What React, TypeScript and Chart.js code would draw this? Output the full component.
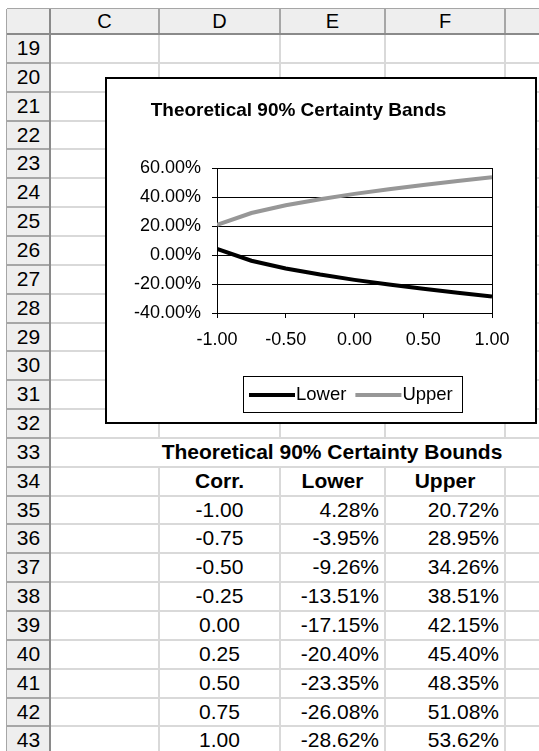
import React, { useEffect, useRef } from "react";
import { Chart, registerables } from "chart.js";

Chart.register(...registerables);

// ---------- data ----------
const corr = [-1, -0.75, -0.5, -0.25, 0, 0.25, 0.5, 0.75, 1];
const lowerBound = [4.28, -3.95, -9.26, -13.51, -17.15, -20.4, -23.35, -26.08, -28.62];
const upperBound = [20.72, 28.95, 34.26, 38.51, 42.15, 45.4, 48.35, 51.08, 53.62];
const seriesNames = ["Lower", "Upper"];
const xTickValues = [-1, -0.5, 0, 0.5, 1];
const yTickValues = [-40, -20, 0, 20, 40, 60];
const chartTitle = "Theoretical 90% Certainty Bands";
const tableTitle = "Theoretical 90% Certainty Bounds";
const tableHeaders = ["Corr.", "Lower", "Upper"];
const columnLetters = ["C", "D", "E", "F", ""];
const firstRow = 19;
const lastRow = 43;
const titleRow = 33;
const headerRow = 34;
const firstDataRow = 35;

// ---------- layout ----------
const FONT = '"Liberation Sans", Arial, Helvetica, sans-serif';
const LEFT = 7;
const HDR_TOP = 9;
const HDR_BOTTOM = 34;
const ROW_H = 28.85;
const ROWHDR_RIGHT = 50;
const COL_EDGES = [50, 159, 280, 385, 505, 600];
const PAGE_W = 539;
const PAGE_H = 751;
const HDR_BG = "#eeeeee";
const HDR_LINE = "#a6a6a6";
const GRID = "#d9d9d9";

const CHART_BOX = { left: 105, top: 77, width: 432, height: 347 };

const rowTop = (r: number) => HDR_BOTTOM + (r - firstRow) * ROW_H;

function ChartBox() {
  const ref = useRef<HTMLCanvasElement | null>(null);
  useEffect(() => {
    const canvas = ref.current;
    if (!canvas) return;
    const framePlugin = {
      id: "frameAndLegend",
      beforeDraw(chart: any) {
        const ctx = chart.ctx;
        ctx.save();
        ctx.fillStyle = "#ffffff";
        ctx.fillRect(0, 0, chart.width, chart.height);
        ctx.restore();
      },
      afterDraw(chart: any) {
        const ctx = chart.ctx;
        ctx.save();
        // outer frame
        ctx.strokeStyle = "#000";
        ctx.lineWidth = 2;
        ctx.strokeRect(1, 1, chart.width - 2, chart.height - 2);
        // legend
        const boxL = 138, boxT = 299, boxR = 357, boxB = 335;
        ctx.lineWidth = 1;
        ctx.strokeRect(boxL + 0.5, boxT + 0.5, boxR - boxL, boxB - boxT);
        const cy = (boxT + boxB) / 2 + 1;
        ctx.font = `18.5px ${FONT}`;
        ctx.textBaseline = "middle";
        ctx.textAlign = "left";
        let x = boxL + 6;
        chart.data.datasets.forEach((ds: any) => {
          ctx.strokeStyle = ds.borderColor;
          ctx.lineWidth = 4;
          ctx.beginPath();
          ctx.moveTo(x, cy);
          ctx.lineTo(x + 46, cy);
          ctx.stroke();
          x += 47;
          ctx.fillStyle = "#000";
          ctx.fillText(ds.label, x, cy);
          x += ctx.measureText(ds.label).width + 9;
        });
        ctx.restore();
      },
    };
    const chart = new Chart(canvas, {
      type: "line",
      data: {
        datasets: [
          {
            label: seriesNames[0],
            data: corr.map((c, i) => ({ x: c, y: lowerBound[i] })),
            borderColor: "#000000",
            borderWidth: 4,
            pointRadius: 0,
            tension: 0,
            fill: false,
          },
          {
            label: seriesNames[1],
            data: corr.map((c, i) => ({ x: c, y: upperBound[i] })),
            borderColor: "#979797",
            borderWidth: 4,
            pointRadius: 0,
            tension: 0,
            fill: false,
          },
        ],
      },
      options: {
        animation: false,
        responsive: false,
        maintainAspectRatio: false,
        devicePixelRatio: 1,
        layout: { padding: { top: 0, left: 0, right: 45, bottom: 0 } },
        plugins: {
          legend: { display: false },
          tooltip: { enabled: false },
          title: {
            display: true,
            text: chartTitle,
            color: "#000",
            font: { family: FONT, size: 19, weight: "bold", lineHeight: 1.2 },
            padding: { top: 22, bottom: 46.2 },
          },
        },
        scales: {
          x: {
            type: "linear",
            min: -1,
            max: 1,
            afterBuildTicks: (s: any) => {
              s.ticks = xTickValues.map((v) => ({ value: v }));
            },
            afterFit: (s: any) => {
              s.height = 111;
            },
            ticks: {
              callback: (v: any) => Number(v).toFixed(2),
              color: "#000",
              font: { family: FONT, size: 18 },
              padding: 11,
              maxRotation: 0,
              autoSkip: false,
            },
            grid: {
              color: (c: any) =>
                c.tick && (c.tick.value === -1 || c.tick.value === 1) ? "#000" : "rgba(0,0,0,0)",
              tickColor: "#000",
              tickLength: 5,
              lineWidth: 1,
            },
            border: { display: true, color: "#000", width: 1 },
          },
          y: {
            type: "linear",
            min: -40,
            max: 60,
            afterBuildTicks: (s: any) => {
              s.ticks = yTickValues.map((v) => ({ value: v }));
            },
            afterFit: (s: any) => {
              s.width = 112;
            },
            ticks: {
              callback: (v: any) => Number(v).toFixed(2) + "%",
              color: "#000",
              font: { family: FONT, size: 18 },
              padding: 11,
              autoSkip: false,
            },
            grid: { color: "#000", tickColor: "#000", tickLength: 5, lineWidth: 1 },
            border: { display: true, color: "#000", width: 1 },
          },
        },
      },
      plugins: [framePlugin],
    } as any);
    return () => chart.destroy();
  }, []);
  return (
    <canvas
      ref={ref}
      width={CHART_BOX.width}
      height={CHART_BOX.height}
      style={{
        position: "absolute",
        left: CHART_BOX.left,
        top: CHART_BOX.top,
        width: CHART_BOX.width,
        height: CHART_BOX.height,
      }}
    />
  );
}

function abs(key: string, l: number, t: number, w: number, h: number, extra: any = {}) {
  return <div key={key} style={{ position: "absolute", left: l, top: t, width: w, height: h, ...extra }} />;
}

function textCell(key: string, text: string, l: number, t: number, w: number, align: string, bold = false, size = 21, padR = 0) {
  return (
    <div
      key={key}
      style={{
        position: "absolute",
        left: l,
        top: t,
        width: w - padR,
        height: ROW_H,
        lineHeight: ROW_H + "px",
        textAlign: align as any,
        fontFamily: FONT,
        fontSize: size,
        fontWeight: bold ? "bold" : "normal",
        color: "#000",
        whiteSpace: "nowrap",
        overflow: "visible",
      }}
    >
      {text}
    </div>
  );
}

function Sheet() {
  const els: any[] = [];
  // header backgrounds
  els.push(abs("hb", LEFT, HDR_TOP, PAGE_W - LEFT, HDR_BOTTOM - HDR_TOP, { background: HDR_BG }));
  els.push(abs("rb", LEFT, HDR_BOTTOM, ROWHDR_RIGHT - LEFT, PAGE_H - HDR_BOTTOM, { background: HDR_BG }));
  // horizontal grid lines
  for (let r = firstRow; r <= lastRow; r++) {
    const y = rowTop(r) + ROW_H;
    els.push(abs("hg" + r, ROWHDR_RIGHT, y - 1, PAGE_W - ROWHDR_RIGHT, 2, { background: GRID }));
    els.push(abs("hh" + r, LEFT, y - 1, ROWHDR_RIGHT - LEFT, 2, { background: HDR_LINE }));
  }
  // vertical grid lines (skip overflowing title row)
  COL_EDGES.slice(1).forEach((x, i) => {
    const t0 = rowTop(titleRow);
    const t1 = rowTop(titleRow + 1);
    els.push(abs("vg1" + i, x - 1, HDR_BOTTOM, 2, t0 - HDR_BOTTOM, { background: GRID }));
    els.push(abs("vg2" + i, x - 1, t1, 2, PAGE_H - t1, { background: GRID }));
    els.push(abs("vh" + i, x - 1, HDR_TOP, 2, HDR_BOTTOM - HDR_TOP, { background: HDR_LINE }));
  });
  // header borders
  els.push(abs("htop", LEFT, HDR_TOP - 1, PAGE_W - LEFT, 1, { background: HDR_LINE }));
  els.push(abs("hleft", LEFT - 1, HDR_TOP, 1, PAGE_H - HDR_TOP, { background: HDR_LINE }));
  els.push(abs("hbot", LEFT, HDR_BOTTOM - 1, PAGE_W - LEFT, 2, { background: "#8a8a8a" }));
  els.push(abs("rright", ROWHDR_RIGHT - 1, HDR_TOP, 2, PAGE_H - HDR_TOP, { background: "#8a8a8a" }));
  // column letters
  columnLetters.forEach((c, i) => {
    if (!c) return;
    const l = COL_EDGES[i];
    const w = COL_EDGES[i + 1] - l;
    els.push(
      <div
        key={"cl" + i}
        style={{
          position: "absolute",
          left: l,
          top: HDR_TOP,
          width: w,
          height: HDR_BOTTOM - HDR_TOP,
          lineHeight: HDR_BOTTOM - HDR_TOP + "px",
          textAlign: "center",
          fontFamily: FONT,
          fontSize: 20,
          color: "#000",
        }}
      >
        {c}
      </div>
    );
  });
  // row numbers
  for (let r = firstRow; r <= lastRow; r++) {
    els.push(textCell("rn" + r, String(r), LEFT, rowTop(r), ROWHDR_RIGHT - LEFT, "center", false, 21));
  }
  // table
  const dL = COL_EDGES[1], eL = COL_EDGES[2], fL = COL_EDGES[3], gL = COL_EDGES[4];
  els.push(textCell("tt", tableTitle, dL, rowTop(titleRow), gL - dL, "center", true, 21));
  els.push(textCell("th0", tableHeaders[0], dL, rowTop(headerRow), eL - dL, "center", true));
  els.push(textCell("th1", tableHeaders[1], eL, rowTop(headerRow), fL - eL, "center", true));
  els.push(textCell("th2", tableHeaders[2], fL, rowTop(headerRow), gL - fL, "center", true));
  corr.forEach((c, i) => {
    const t = rowTop(firstDataRow + i);
    els.push(textCell("dc" + i, c.toFixed(2), dL, t, eL - dL, "center"));
    els.push(textCell("dl" + i, lowerBound[i].toFixed(2) + "%", eL, t, fL - eL, "right", false, 21, 6));
    els.push(textCell("du" + i, upperBound[i].toFixed(2) + "%", fL, t, gL - fL, "right", false, 21, 6));
  });
  return <>{els}</>;
}

export default function App() {
  return (
    <div
      style={{
        position: "absolute",
        left: 0,
        top: 0,
        width: PAGE_W,
        height: PAGE_H,
        overflow: "hidden",
        background: "#fff",
      }}
    >
      <Sheet />
      <ChartBox />
    </div>
  );
}
